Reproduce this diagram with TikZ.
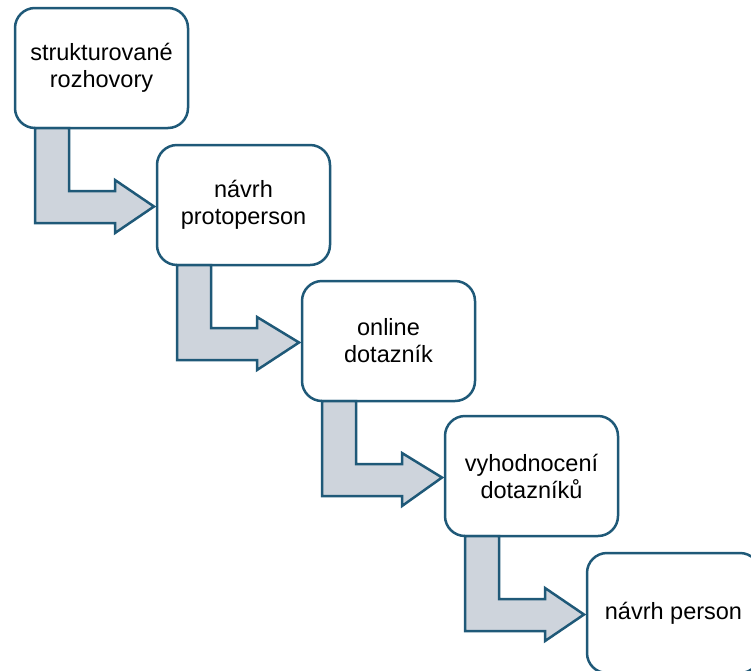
\documentclass[tikz,border=0pt]{standalone}
\usepackage{fontspec}
\setmainfont{Liberation Sans}
\usetikzlibrary{calc}
\definecolor{boxblue}{RGB}{31,89,120}
\definecolor{arrowgray}{RGB}{206,212,220}
\tikzset{
	stage/.style={draw=boxblue, line width=2.5pt, fill=white, rounded corners=20pt,
		minimum width=173pt, minimum height=120pt, inner sep=0pt, outer sep=0pt,
		align=center, anchor=north west, font=\fontsize{23.5}{27}\selectfont},
	bentarrow/.style={draw=boxblue, line width=2.5pt, fill=arrowgray, line join=miter}
}
\def\bentarrow(#1)(#2){\draw[bentarrow] ($(#1.south west)+(20,0)$) -- ++(34,0) -- ++(0,-63) -- ++(46,0) -- ++(0,11) -- ($(#2.west)+(-3,-1.5)$) -- ($(#1.south west)+(100,-105)$) -- ++(0,10) -- ++(-80,0) -- cycle;}

\begin{document}
\begin{tikzpicture}[x=1pt, y=1pt]
		%%%%% START %%%%%
		\clip (0, 0) rectangle (751, -670);
		
		\node[stage] (interviews) at (15, -8) {strukturované\\rozhovory};
		\node[stage] (protopersons) at (157, -145) {návrh\\protoperson};
		\node[stage] (survey) at (302, -281) {online\\dotazník};
		\node[stage] (evaluation) at (445, -416) {vyhodnocení\\dotazníků};
		\node[stage] (personas) at (587, -553) {návrh person};
		
		\bentarrow(interviews)(protopersons)
		\bentarrow(protopersons)(survey)
		\bentarrow(survey)(evaluation)
		\bentarrow(evaluation)(personas)
		%%%%% END %%%%%
	\end{tikzpicture}
\end{document}
